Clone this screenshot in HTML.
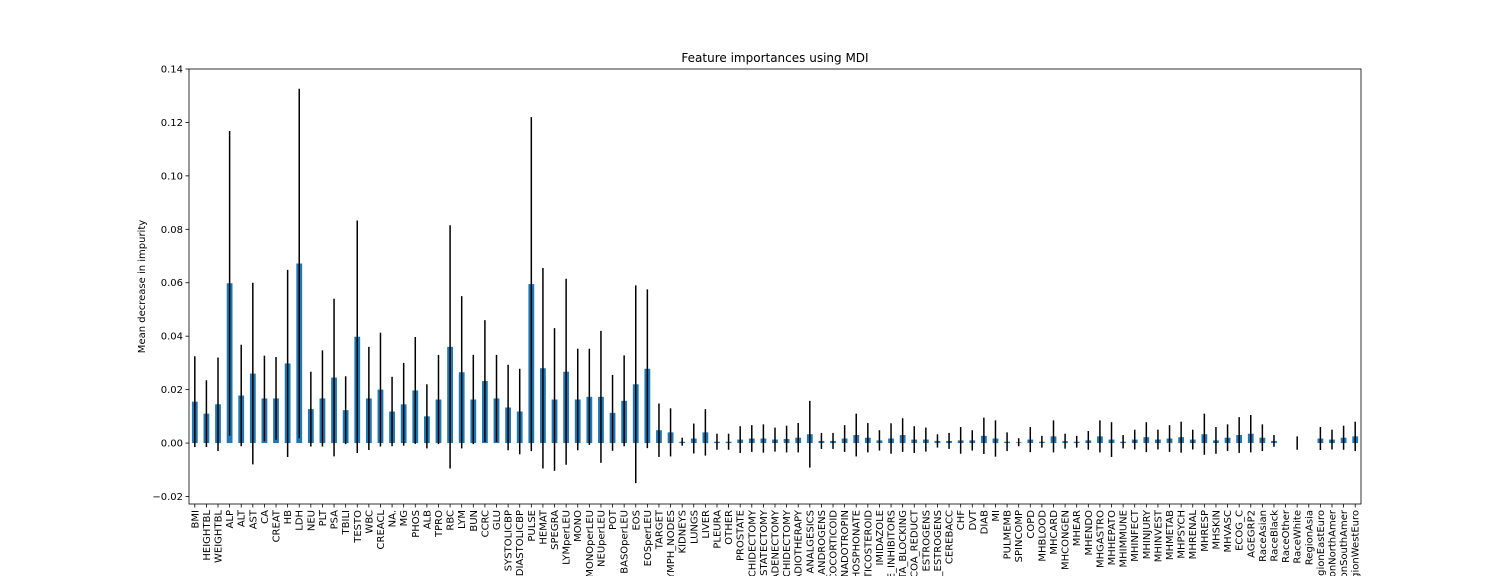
<!DOCTYPE html>
<html><head><meta charset="utf-8"><style>
html,body{margin:0;padding:0;background:#fff;width:1512px;height:576px;overflow:hidden;}
svg{display:block;overflow:hidden;font-family:"DejaVu Sans","Liberation Sans",sans-serif;}
</style></head><body>
<svg id="chart" width="1512" height="576" viewBox="0 0 1512 576"></svg>
<script>
const categories=["BMI","HEIGHTBL","WEIGHTBL","ALP","ALT","AST","CA","CREAT","HB","LDH","NEU","PLT","PSA","TBILI","TESTO","WBC","CREACL","NA.","MG","PHOS","ALB","TPRO","RBC","LYM","BUN","CCRC","GLU","SYSTOLICBP","DIASTOLICBP","PULSE","HEMAT","SPEGRA","LYMperLEU","MONO","MONOperLEU","NEUperLEU","POT","BASOperLEU","EOS","EOSperLEU","TARGET","LYMPH_NODES","KIDNEYS","LUNGS","LIVER","PLEURA","OTHER","PROSTATE","ORCHIDECTOMY","PROSTATECTOMY","LYMPHADENECTOMY","BILATERAL_ORCHIDECTOMY","RADIOTHERAPY","ANALGESICS","ANTI_ANDROGENS","GLUCOCORTICOID","GONADOTROPIN","BISPHOSPHONATE","CORTICOSTEROID","IMIDAZOLE","ACE_INHIBITORS","BETA_BLOCKING","HMG_COA_REDUCT","ESTROGENS","ANTI_ESTROGENS","CEREBACC","CHF","DVT","DIAB","MI","PULMEMB","SPINCOMP","COPD","MHBLOOD","MHCARD","MHCONGEN","MHEAR","MHENDO","MHGASTRO","MHHEPATO","MHIMMUNE","MHINFECT","MHINJURY","MHINVEST","MHMETAB","MHPSYCH","MHRENAL","MHRESP","MHSKIN","MHVASC","ECOG_C","AGEGRP2","RaceAsian","RaceBlack","RaceOther","RaceWhite","RegionAsia","RegionEastEuro","RegionNorthAmer","RegionSouthAmer","RegionWestEuro"];
const importances=[0.0155,0.011,0.0145,0.0598,0.0178,0.026,0.0167,0.0167,0.0298,0.0672,0.0127,0.0167,0.0245,0.0123,0.0398,0.0167,0.0200,0.0118,0.0145,0.0197,0.0100,0.0163,0.036,0.0265,0.0163,0.0232,0.0167,0.0133,0.0118,0.0595,0.028,0.0163,0.0267,0.0163,0.0173,0.0173,0.0113,0.0158,0.0220,0.0278,0.0048,0.004,0.0005,0.0017,0.004,0.0005,0.0005,0.0013,0.0017,0.0017,0.0013,0.0015,0.002,0.0033,0.0008,0.0008,0.0017,0.003,0.002,0.001,0.0017,0.003,0.0013,0.0013,0.0008,0.0008,0.001,0.001,0.0027,0.0017,0.0005,0.0003,0.0013,0.0005,0.0025,0.0007,0.0005,0.001,0.0025,0.0013,0.0005,0.0013,0.0022,0.0013,0.0017,0.0022,0.0013,0.0033,0.001,0.002,0.003,0.0035,0.002,0.0008,0,0,0,0.0017,0.0013,0.002,0.0025];
const stds=[0.017,0.0125,0.0175,0.057,0.019,0.034,0.016,0.0155,0.035,0.0654,0.014,0.018,0.0295,0.0127,0.0435,0.0193,0.0213,0.013,0.0155,0.020,0.012,0.0167,0.0455,0.0285,0.0167,0.0228,0.0163,0.016,0.016,0.0625,0.0375,0.0267,0.0348,0.019,0.018,0.0247,0.0142,0.017,0.037,0.0297,0.010,0.009,0.0015,0.0056,0.0087,0.003,0.003,0.005,0.005,0.0053,0.0045,0.005,0.0055,0.0125,0.003,0.003,0.005,0.008,0.0055,0.0038,0.0057,0.0063,0.005,0.0045,0.0025,0.003,0.005,0.0038,0.0068,0.0068,0.0035,0.0015,0.0047,0.0022,0.006,0.0028,0.0022,0.0035,0.006,0.0065,0.0025,0.0037,0.0056,0.0037,0.005,0.0058,0.0037,0.0077,0.005,0.005,0.0067,0.007,0.005,0.0022,0,0.0025,0,0.0043,0.0037,0.0045,0.0055];
const yTicks=[-0.02,0,0.02,0.04,0.06,0.08,0.10,0.12,0.14];
const yTickLabels=["\u22120.02","0.00","0.02","0.04","0.06","0.08","0.10","0.12","0.14"];

const NS="http://www.w3.org/2000/svg";
const svg=document.getElementById('chart');
const L=189,R=1361,T=69,B=504;
const yMin=-0.02281,yMax=0.14;
const n=categories.length;
const x=i=>L+(i+0.5)*(R-L)/n;
const y=v=>B-(v-yMin)/(yMax-yMin)*(B-T);
const bw=0.5*(R-L)/n;
function mk(tag,attrs,parent){const e=document.createElementNS(NS,tag);for(const k in attrs)e.setAttribute(k,attrs[k]);(parent||svg).appendChild(e);return e;}

const title=mk('text',{x:(L+R)/2,y:62,'text-anchor':'middle','font-size':12});
title.textContent='Feature importances using MDI';



const bars=mk('g',{});


const errs=mk('g',{stroke:'#000','stroke-width':1.5});


const xt=mk('g',{});


for(let i=0;i<n;i++){
  const v=importances[i],cx=x(i);
  const top=Math.min(y(v),y(0)),h=Math.abs(y(v)-y(0));
  const r=mk('rect',{x:cx-bw/2,y:top,width:bw,height:Math.max(h,0.01),fill:'#1f77b4'},bars);
  
  
  if(stds[i]>0){
    const l=mk('line',{x1:cx,x2:cx,y1:y(v-stds[i]),y2:y(v+stds[i])},errs);
    
    
  }
  mk('line',{x1:cx,x2:cx,y1:B,y2:B+3.5,stroke:'#000','stroke-width':0.8},xt);
  const t=mk('text',{x:0,y:0,'text-anchor':'end','font-size':10,transform:`translate(${cx+3.5},${B+6}) rotate(-90)`},xt);
  t.textContent=categories[i];
  
  
}
const yt=mk('g',{});


yTicks.forEach((v,k)=>{
  const yy=y(v);
  mk('line',{x1:L-3.5,x2:L,y1:yy,y2:yy,stroke:'#000','stroke-width':0.8},yt);
  const t=mk('text',{x:L-6,y:yy+3.5,'text-anchor':'end','font-size':10},yt);
  t.textContent=yTickLabels[k];
  
  
});
const yl=mk('text',{x:0,y:0,'text-anchor':'middle','font-size':10,transform:`translate(145,${(T+B)/2}) rotate(-90)`});
yl.textContent='Mean decrease in impurity';


const frame=mk('rect',{x:L,y:T,width:R-L,height:B-T,fill:'none',stroke:'#000','stroke-width':0.8});


</script>
</body></html>
